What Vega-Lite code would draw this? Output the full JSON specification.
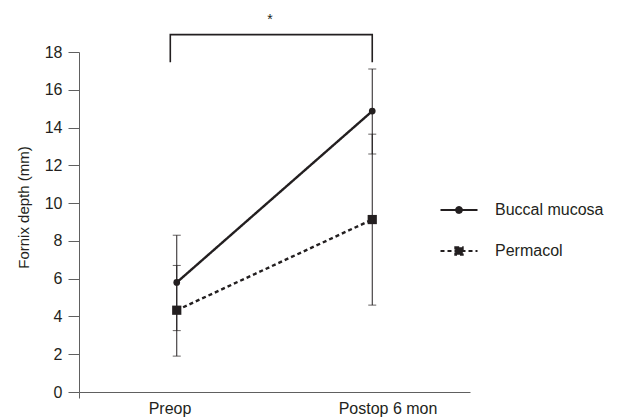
{
  "$schema": "https://vega.github.io/schema/vega-lite/v6.json",
  "width": 391,
  "height": 340,
  "autosize": {"type": "none"},
  "padding": {"left": 79, "top": 52, "right": 147, "bottom": 27},
  "background": "white",
  "config": {
    "view": {"stroke": null},
    "font": "Liberation Sans",
    "axis": {
      "grid": false, "labelOverlap": false, "labelBound": false, "labelFlush": false,
      "tickColor": "#606060", "domainColor": "#606060",
      "labelFontSize": 16, "labelColor": "#231f20"
    },
    "axisY": {"tickSize": 11, "labelPadding": 6},
    "axisX": {"tickSize": 6, "labelPadding": 2},
    "legend": {
      "orient": "none", "legendX": 369, "legendY": 147, "padding": 0,
      "symbolSize": 400, "symbolStrokeWidth": 1.8, "symbolOpacity": 1,
      "labelOffset": 25, "rowPadding": 22,
      "labelFontSize": 16, "labelColor": "#231f20", "labelBaseline": "middle"
    }
  },
  "datasets": {
    "summary": [
      {"time": 0, "timepoint": "Preop", "group": "Buccal mucosa", "mean": 5.8, "lo": 3.25, "hi": 8.3},
      {"time": 1, "timepoint": "Postop 6 mon", "group": "Buccal mucosa", "mean": 14.87, "lo": 12.6, "hi": 17.1},
      {"time": 0, "timepoint": "Preop", "group": "Permacol", "mean": 4.33, "lo": 1.9, "hi": 6.7},
      {"time": 1, "timepoint": "Postop 6 mon", "group": "Permacol", "mean": 9.13, "lo": 4.6, "hi": 13.65}
    ],
    "bracket": [
      {"bx": -0.033, "by": 17.46, "order": 1},
      {"bx": -0.033, "by": 18.92, "order": 2},
      {"bx": 1.0, "by": 18.92, "order": 3},
      {"bx": 1.0, "by": 17.46, "order": 4}
    ],
    "sig": [{"bx": 0.477, "by": 19.5, "label": "*"}]
  },
  "layer": [
    {
      "data": {"name": "summary"},
      "mark": {"type": "rule", "color": "#231f20", "strokeWidth": 1},
      "encoding": {
        "x": {"field": "time", "type": "quantitative", "scale": {"domain": [-0.5, 1.5], "nice": false, "zero": false},
          "axis": {"title": null, "values": [-0.5, -0.037, 1.078], "labelExpr": "datum.value < -0.4 ? '' : (datum.value < 0.5 ? 'Preop' : 'Postop 6 mon')", "tickOpacity": {"condition": {"test": "datum.value < -0.4", "value": 1}, "value": 0}}},
        "y": {"field": "lo", "type": "quantitative", "scale": {"domain": [0, 18], "nice": false},
          "axis": {"title": "Fornix depth (mm)", "values": [0, 2, 4, 6, 8, 10, 12, 14, 16, 18], "titleFontSize": 15, "titleFontWeight": "normal", "titleColor": "#231f20", "titleX": -56, "titleY": 155, "titleBaseline": "middle", "titleAngle": -90}},
        "y2": {"field": "hi"}
      }
    },
    {
      "data": {"name": "summary"},
      "mark": {"type": "tick", "orient": "horizontal", "size": 8, "thickness": 1, "color": "#231f20"},
      "encoding": {
        "x": {"field": "time", "type": "quantitative",
          "axis": {"title": null, "values": [-0.5, -0.037, 1.078], "labelExpr": "datum.value < -0.4 ? '' : (datum.value < 0.5 ? 'Preop' : 'Postop 6 mon')", "tickOpacity": {"condition": {"test": "datum.value < -0.4", "value": 1}, "value": 0}}},
        "y": {"field": "lo", "type": "quantitative",
          "axis": {"title": "Fornix depth (mm)", "values": [0, 2, 4, 6, 8, 10, 12, 14, 16, 18], "titleFontSize": 15, "titleFontWeight": "normal", "titleColor": "#231f20", "titleX": -56, "titleY": 155, "titleBaseline": "middle", "titleAngle": -90}}
      }
    },
    {
      "data": {"name": "summary"},
      "mark": {"type": "tick", "orient": "horizontal", "size": 8, "thickness": 1, "color": "#231f20"},
      "encoding": {
        "x": {"field": "time", "type": "quantitative",
          "axis": {"title": null, "values": [-0.5, -0.037, 1.078], "labelExpr": "datum.value < -0.4 ? '' : (datum.value < 0.5 ? 'Preop' : 'Postop 6 mon')", "tickOpacity": {"condition": {"test": "datum.value < -0.4", "value": 1}, "value": 0}}},
        "y": {"field": "hi", "type": "quantitative",
          "axis": {"title": "Fornix depth (mm)", "values": [0, 2, 4, 6, 8, 10, 12, 14, 16, 18], "titleFontSize": 15, "titleFontWeight": "normal", "titleColor": "#231f20", "titleX": -56, "titleY": 155, "titleBaseline": "middle", "titleAngle": -90}}
      }
    },
    {
      "data": {"name": "summary"},
      "mark": {"type": "line", "color": "#231f20", "strokeWidth": 2.4},
      "encoding": {
        "x": {"field": "time", "type": "quantitative",
          "axis": {"title": null, "values": [-0.5, -0.037, 1.078], "labelExpr": "datum.value < -0.4 ? '' : (datum.value < 0.5 ? 'Preop' : 'Postop 6 mon')", "tickOpacity": {"condition": {"test": "datum.value < -0.4", "value": 1}, "value": 0}}},
        "y": {"field": "mean", "type": "quantitative",
          "axis": {"title": "Fornix depth (mm)", "values": [0, 2, 4, 6, 8, 10, 12, 14, 16, 18], "titleFontSize": 15, "titleFontWeight": "normal", "titleColor": "#231f20", "titleX": -56, "titleY": 155, "titleBaseline": "middle", "titleAngle": -90}},
        "strokeDash": {"field": "group", "type": "nominal",
          "scale": {"domain": ["Buccal mucosa", "Permacol"], "range": [[1, 0], [4, 3]]},
          "legend": {"title": null}}
      }
    },
    {
      "data": {"name": "summary"},
      "mark": {"type": "point", "filled": false, "color": "#231f20", "opacity": 0},
      "encoding": {
        "x": {"field": "time", "type": "quantitative",
          "axis": {"title": null, "values": [-0.5, -0.037, 1.078], "labelExpr": "datum.value < -0.4 ? '' : (datum.value < 0.5 ? 'Preop' : 'Postop 6 mon')", "tickOpacity": {"condition": {"test": "datum.value < -0.4", "value": 1}, "value": 0}}},
        "y": {"field": "mean", "type": "quantitative",
          "axis": {"title": "Fornix depth (mm)", "values": [0, 2, 4, 6, 8, 10, 12, 14, 16, 18], "titleFontSize": 15, "titleFontWeight": "normal", "titleColor": "#231f20", "titleX": -56, "titleY": 155, "titleBaseline": "middle", "titleAngle": -90}},
        "shape": {"field": "group", "type": "nominal",
          "scale": {"domain": ["Buccal mucosa", "Permacol"], "range": ["M-1.85,0H1.85M0.3,0A0.3,0.3,0,1,1,-0.3,0A0.3,0.3,0,1,1,0.3,0Z", "M-1.85,0H1.85M-0.38,-0.38H0.38V0.38H-0.38Z"]},
          "legend": {"title": null}},
        "fill": {"field": "group", "type": "nominal",
          "scale": {"domain": ["Buccal mucosa", "Permacol"], "range": ["#231f20", "#231f20"]},
          "legend": {"title": null}},
        "stroke": {"field": "group", "type": "nominal",
          "scale": {"domain": ["Buccal mucosa", "Permacol"], "range": ["#231f20", "#231f20"]},
          "legend": {"title": null}},
        "strokeDash": {"field": "group", "type": "nominal",
          "legend": {"title": null}}
      }
    },
    {
      "data": {"name": "summary"},
      "transform": [{"filter": "datum.group === 'Buccal mucosa'"}],
      "mark": {"type": "point", "filled": true, "color": "#231f20", "opacity": 1, "shape": "circle", "size": 45},
      "encoding": {
        "x": {"field": "time", "type": "quantitative",
          "axis": {"title": null, "values": [-0.5, -0.037, 1.078], "labelExpr": "datum.value < -0.4 ? '' : (datum.value < 0.5 ? 'Preop' : 'Postop 6 mon')", "tickOpacity": {"condition": {"test": "datum.value < -0.4", "value": 1}, "value": 0}}},
        "y": {"field": "mean", "type": "quantitative",
          "axis": {"title": "Fornix depth (mm)", "values": [0, 2, 4, 6, 8, 10, 12, 14, 16, 18], "titleFontSize": 15, "titleFontWeight": "normal", "titleColor": "#231f20", "titleX": -56, "titleY": 155, "titleBaseline": "middle", "titleAngle": -90}}
      }
    },
    {
      "data": {"name": "summary"},
      "transform": [{"filter": "datum.group === 'Permacol'"}],
      "mark": {"type": "point", "filled": true, "color": "#231f20", "opacity": 1, "shape": "square", "size": 85},
      "encoding": {
        "x": {"field": "time", "type": "quantitative",
          "axis": {"title": null, "values": [-0.5, -0.037, 1.078], "labelExpr": "datum.value < -0.4 ? '' : (datum.value < 0.5 ? 'Preop' : 'Postop 6 mon')", "tickOpacity": {"condition": {"test": "datum.value < -0.4", "value": 1}, "value": 0}}},
        "y": {"field": "mean", "type": "quantitative",
          "axis": {"title": "Fornix depth (mm)", "values": [0, 2, 4, 6, 8, 10, 12, 14, 16, 18], "titleFontSize": 15, "titleFontWeight": "normal", "titleColor": "#231f20", "titleX": -56, "titleY": 155, "titleBaseline": "middle", "titleAngle": -90}}
      }
    },
    {
      "data": {"name": "bracket"},
      "mark": {"type": "line", "color": "#231f20", "strokeWidth": 1.6},
      "encoding": {
        "x": {"field": "bx", "type": "quantitative",
          "axis": {"title": null, "values": [-0.5, -0.037, 1.078], "labelExpr": "datum.value < -0.4 ? '' : (datum.value < 0.5 ? 'Preop' : 'Postop 6 mon')", "tickOpacity": {"condition": {"test": "datum.value < -0.4", "value": 1}, "value": 0}}},
        "y": {"field": "by", "type": "quantitative",
          "axis": {"title": "Fornix depth (mm)", "values": [0, 2, 4, 6, 8, 10, 12, 14, 16, 18], "titleFontSize": 15, "titleFontWeight": "normal", "titleColor": "#231f20", "titleX": -56, "titleY": 155, "titleBaseline": "middle", "titleAngle": -90}},
        "order": {"field": "order", "type": "quantitative"}
      }
    },
    {
      "data": {"name": "sig"},
      "mark": {"type": "text", "fontSize": 14, "color": "#231f20", "align": "center", "baseline": "alphabetic"},
      "encoding": {
        "x": {"field": "bx", "type": "quantitative",
          "axis": {"title": null, "values": [-0.5, -0.037, 1.078], "labelExpr": "datum.value < -0.4 ? '' : (datum.value < 0.5 ? 'Preop' : 'Postop 6 mon')", "tickOpacity": {"condition": {"test": "datum.value < -0.4", "value": 1}, "value": 0}}},
        "y": {"field": "by", "type": "quantitative",
          "axis": {"title": "Fornix depth (mm)", "values": [0, 2, 4, 6, 8, 10, 12, 14, 16, 18], "titleFontSize": 15, "titleFontWeight": "normal", "titleColor": "#231f20", "titleX": -56, "titleY": 155, "titleBaseline": "middle", "titleAngle": -90}},
        "text": {"field": "label", "type": "nominal"}
      }
    }
  ]
}
